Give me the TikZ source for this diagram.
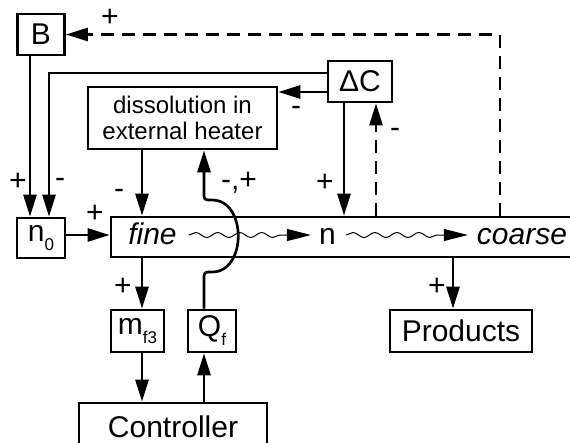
\documentclass[tikz,border=0pt]{standalone}
\usepackage{fontspec}
\setmainfont{Liberation Sans}
\usetikzlibrary{arrows.meta,decorations.pathmorphing}
\begin{document}
\begin{tikzpicture}[x=1pt,y=-1pt,
  box/.style={draw, line width=2.7pt, inner sep=0pt, font=\fontsize{30}{34}\selectfont},
  arr/.style={line width=2.7pt, -{Triangle[length=22pt,width=13pt]}},
  dsh/.style={dash pattern=on 13pt off 8pt},
  lbl/.style={inner sep=0pt, font=\fontsize{30}{30}\selectfont},
  flow/.style={inner sep=0pt, anchor=base, text height=18pt, text depth=0pt, font=\fontsize{30}{34}\selectfont},
  wavy/.style={line width=1pt, -{Triangle[length=24pt,width=12pt]}, decorate,
    decoration={snake, amplitude=2.5pt, segment length=22pt, post=lineto, post length=24pt}}
]
\useasboundingbox (0,0) rectangle (570,442);
\clip (0,0) rectangle (570,442);

% x / y reference coordinates
\coordinate (xB) at (30,0);
\coordinate (xL) at (49,0);
\coordinate (x142) at (142,0);
\coordinate (x204) at (204,0);
\coordinate (x344) at (344,0);
\coordinate (x376) at (376,0);
\coordinate (x453) at (453,0);
\coordinate (x500) at (500,0);
\coordinate (y73) at (0,73);
\coordinate (y92) at (0,92);
\coordinate (y235) at (0,235);

% boxes
\node[box, minimum width=47pt, minimum height=41pt] (B) at (41,34.5) {B};
\node[box, minimum width=64pt, minimum height=41pt] (dC) at (360,81.5) {ΔC};
\node[box, minimum width=189pt, minimum height=62pt, align=center,
      font=\fontsize{24}{26}\selectfont] (dis) at (182.5,118) {dissolution in\\external heater};
\node[box, minimum width=48pt, minimum height=40pt] (n0) at (41,238)
  {n\raisebox{-9pt}{\fontsize{17}{17}\selectfont 0}};
\node[box, minimum width=540pt, minimum height=40pt] (main) at (381,237) {};
\node[box, minimum width=53pt, minimum height=42pt] (mf) at (137.5,331)
  {m\raisebox{-9pt}{\fontsize{17}{17}\selectfont f3}};
\node[box, minimum width=48pt, minimum height=42pt] (Qf) at (212,331)
  {Q\raisebox{-9pt}{\fontsize{17}{17}\selectfont f}};
\node[box, minimum width=142pt, minimum height=42pt] (prod) at (461,331) {Products};
\node[box, minimum width=188pt, minimum height=48pt] (ctrl) at (173,427) {Controller};

% flow texts inside the crystallizer
\node[flow, font=\fontsize{30}{34}\selectfont\itshape] (fine) at (152.5,244) {fine};
\node[flow] (n) at (327.5,244) {n};
\node[flow, font=\fontsize{30}{34}\selectfont\itshape] (coarse) at (522,244) {coarse};
\draw[wavy] ([xshift=12pt]fine.east) -- ([xshift=-8pt]n.west);
\draw[wavy] ([xshift=10pt]n.east) -- ([xshift=-9pt]coarse.west);

% connectors
\draw[arr] (B.south -| xB) -- (n0.north -| xB);
\draw[arr] (dC.west |- y73) -| (n0.north -| xL);
\draw[arr] (dC.west |- y92) -- (dis.east |- y92);
\draw[arr] (dis.south -| x142) -- (main.north -| x142);
\draw[arr] (dC.south -| x344) -- (main.north -| x344);
\draw[arr, dsh] (main.north -| x376) -- (dC.south -| x376);
\draw[arr, dsh] (main.north -| x500) |- (B.east);
\draw[arr] (n0.east |- y235) -- (main.west |- y235);
\draw[arr] (main.south -| x142) -- (mf.north -| x142);
\draw[arr] (mf.south -| x142) -- (ctrl.north -| x142);
\draw[arr] (ctrl.north -| x204) -- (Qf.south -| x204);
\draw[arr] (Qf.north -| x204) -- (204,280) .. controls (204,272) .. (212,272)
  .. controls (247,272) and (247,200) .. (212,200) .. controls (204,200) .. (204,192)
  -- (dis.south -| x204);
\draw[arr] (main.south -| x453) -- (prod.north -| x453);

% signs
\node[lbl] (s1) at (18,182) {+};
\node[lbl] (s2) at (60,183) {-};
\node[lbl] (s3) at (119,194) {-};
\node[lbl] (s4) at (239,183) {-,+};
\node[lbl] (s5) at (110,18) {+};
\node[lbl] (s6) at (95,214) {+};
\node[lbl] (s7) at (296,111) {-};
\node[lbl] (s8) at (395,133) {-};
\node[lbl] (s9) at (325,183) {+};
\node[lbl] (s10) at (123,287) {+};
\node[lbl] (s11) at (437,287) {+};
\end{tikzpicture}
\end{document}
